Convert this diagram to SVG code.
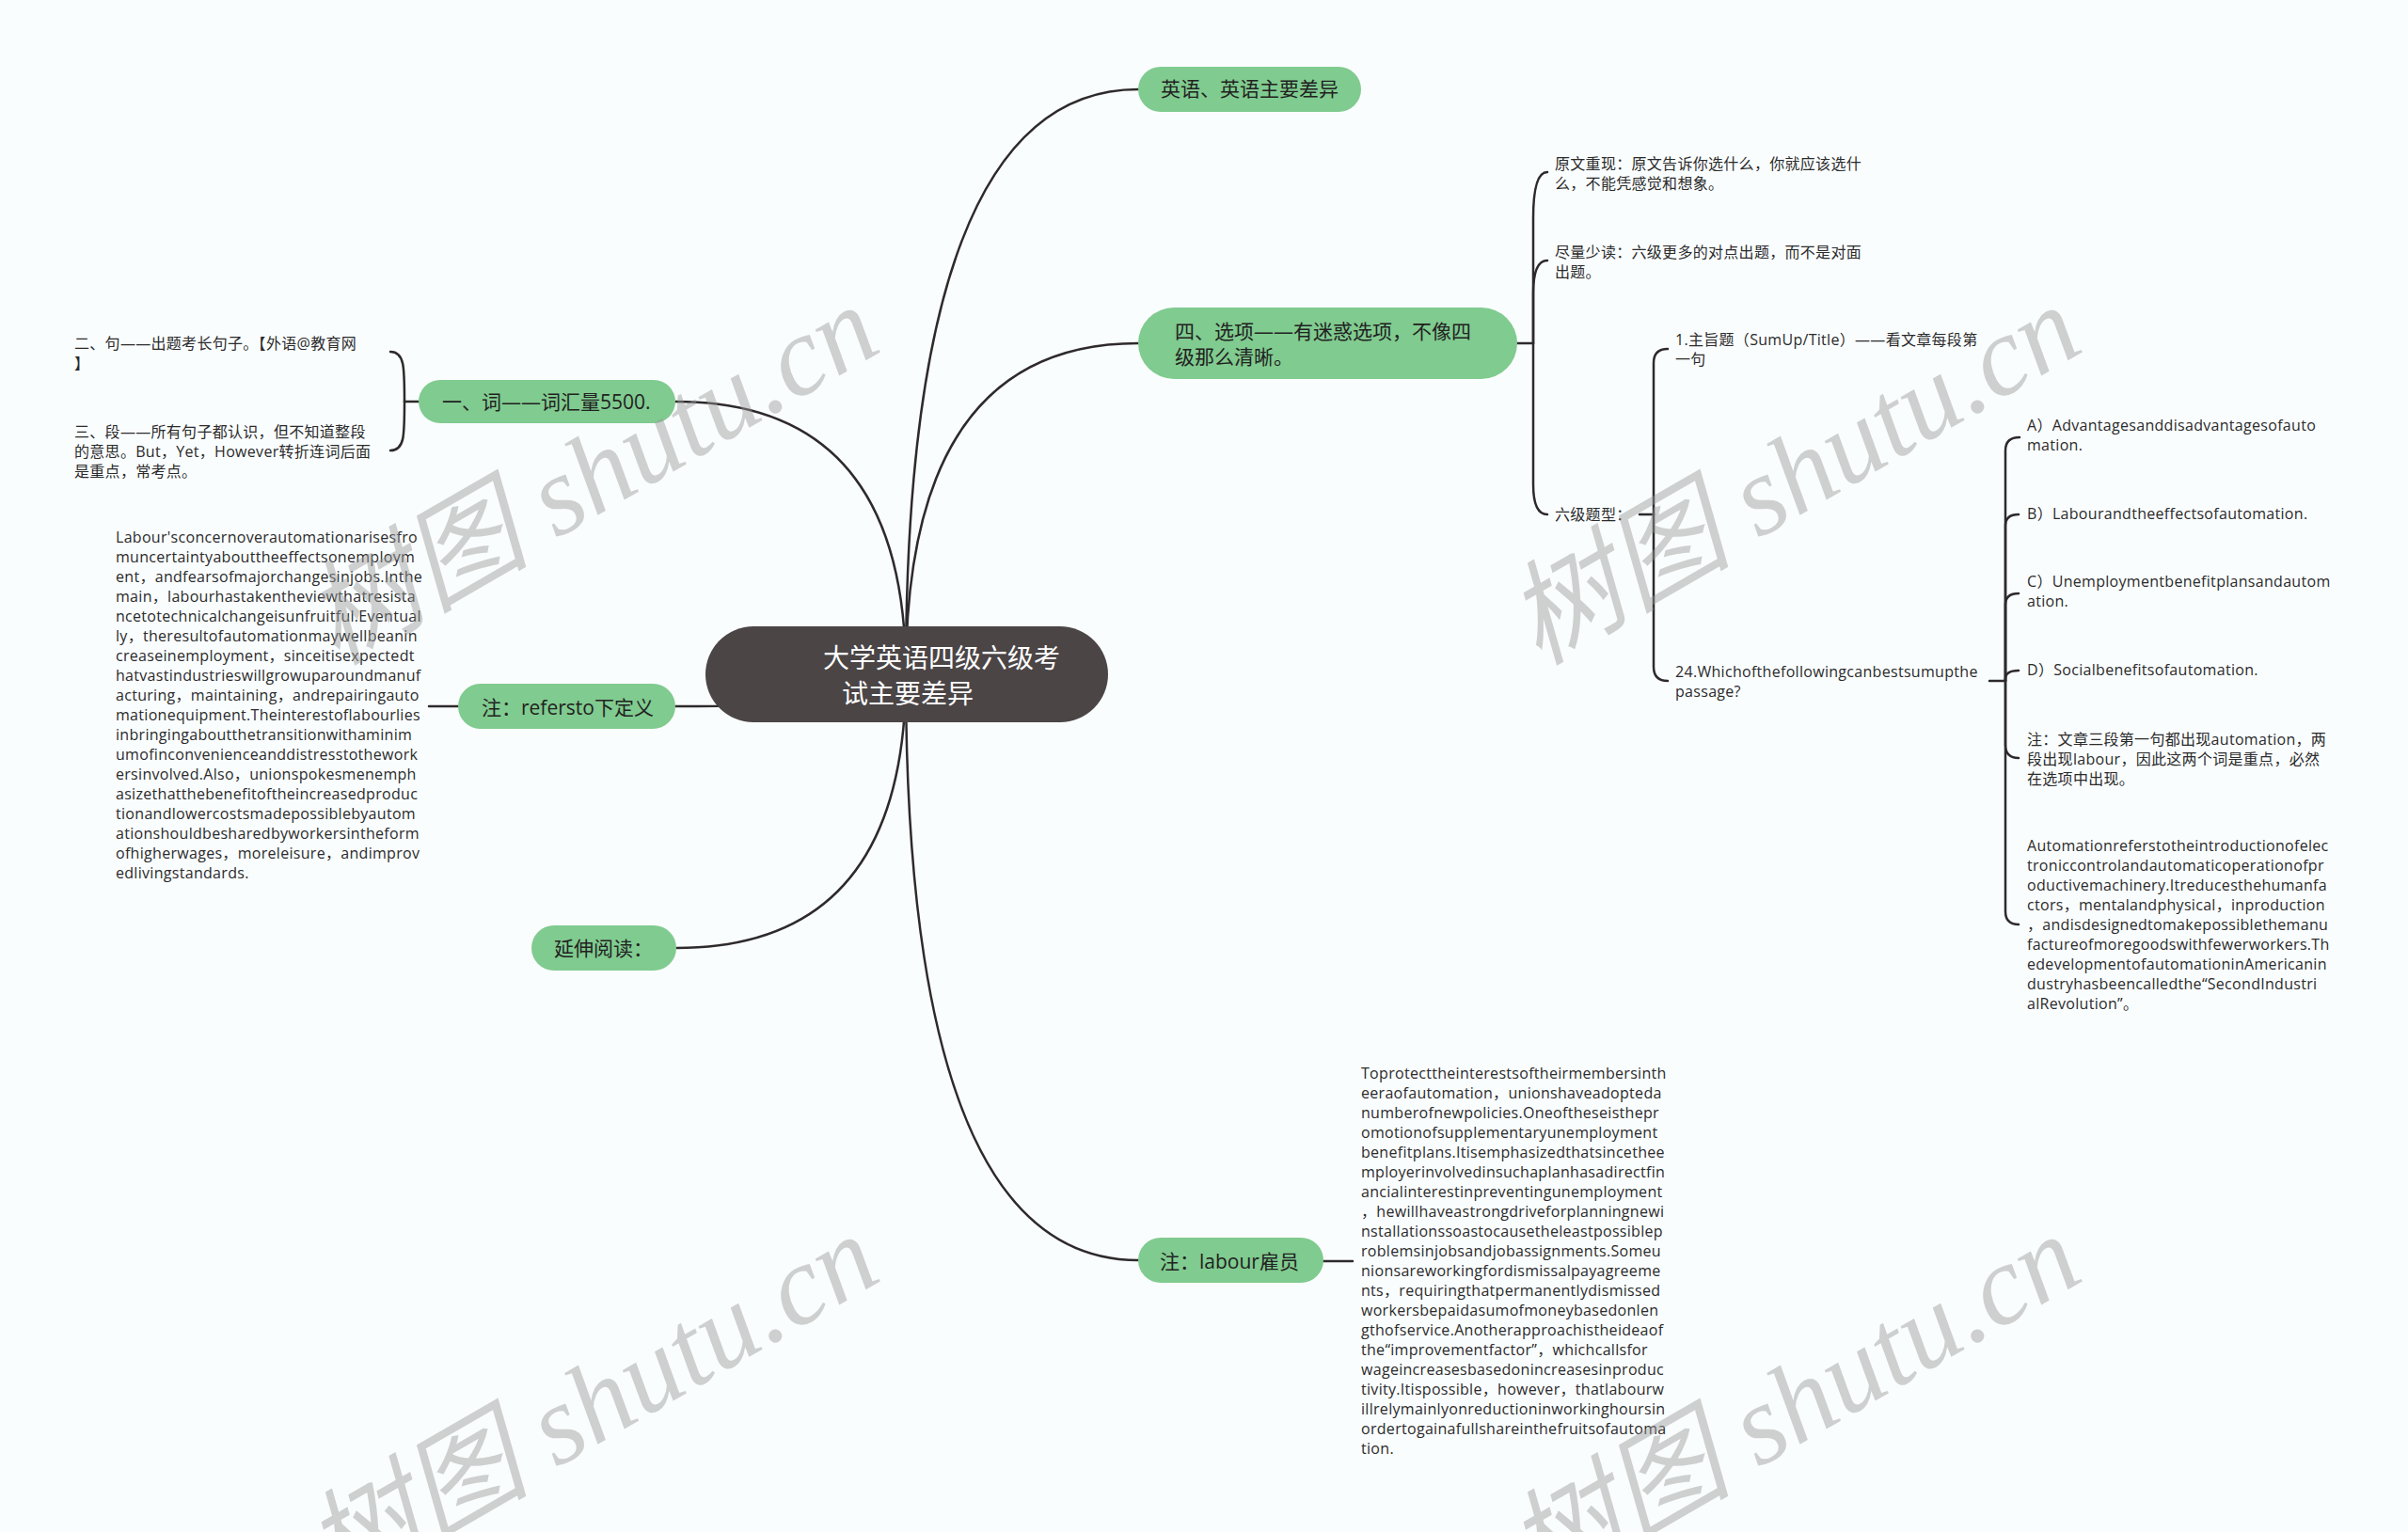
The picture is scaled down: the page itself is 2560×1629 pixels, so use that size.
<svg xmlns="http://www.w3.org/2000/svg" width="2560" height="1629" viewBox="0 0 2560 1629">
<style>
.bg{fill:#fafdfe}
.c{fill:none;stroke:#2e2a2b;stroke-width:2.5;stroke-linecap:round}
.g{fill:#80cb8f}
.gt{font-family:"Open Sans","Noto Sans CJK SC",sans-serif;font-size:21px;fill:#222}
.t{font-family:"Open Sans","Noto Sans CJK SC",sans-serif;font-size:16px;fill:#2b2b2b;letter-spacing:0.3px}
.ct{font-family:"Open Sans","Noto Sans CJK SC",sans-serif;font-size:28px;fill:#ffffff}
.wm{font-family:"Liberation Serif","Noto Sans CJK SC",serif;font-style:italic;font-size:120px;fill:#9a9a9a;opacity:0.45}
</style>
<rect class="bg" x="0" y="0" width="2560" height="1629"/>
<g id="connectors">
<path class="c" d="M963,717 Q963,95 1210,95"/>
<path class="c" d="M963,717 Q963,365 1210,365"/>
<path class="c" d="M963,717 Q963,427 718,427"/>
<path class="c" d="M963,717 Q963,751 718,751"/>
<path class="c" d="M963,717 Q963,1008 719,1008"/>
<path class="c" d="M963,717 Q963,1340 1210,1340"/>
<path class="c" d="M445,427 H430"/>
<path class="c" d="M430,427 C430,390 430,374 415,374"/>
<path class="c" d="M430,427 C430,464 430,479 415,479"/>
<path class="c" d="M487,751 H456"/>
<path class="c" d="M1407,1341 H1438"/>
<path class="c" d="M1613,365 H1630"/>
<path class="c" d="M1630,365 L1630,232 Q1630,183 1645,183"/>
<path class="c" d="M1630,365 L1630,312 Q1630,277 1645,277"/>
<path class="c" d="M1630,365 L1630,515 Q1630,547 1645,547"/>
<path class="c" d="M1743,547 H1758"/>
<path class="c" d="M1758,547 V386 Q1758,371 1773,371"/>
<path class="c" d="M1758,547 V709 Q1758,724 1773,724"/>
<path class="c" d="M2115,724 H2132"/>
<path class="c" d="M2132,724 V479 Q2132,465 2147,465"/>
<path class="c" d="M2132,724 V559 Q2132,547 2146,547"/>
<path class="c" d="M2132,724 V643 Q2132,631 2146,631"/>
<path class="c" d="M2132,724 V722 Q2132,713 2146,713"/>
<path class="c" d="M2132,724 V792 Q2132,806 2146,806"/>
<path class="c" d="M2132,724 V969 Q2132,983 2146,983"/>
</g>
<g id="center">
<rect x="750" y="666" width="428" height="102" rx="51" fill="#4b4546"/>
<text class="ct" x="875" y="710">大学英语四级六级考</text>
<text class="ct" x="895" y="748">试主要差异</text>
</g>
<g id="n-yingyu">
<rect class="g" x="1210" y="71" width="237" height="48" rx="24"/>
<text class="gt" x="1234" y="102">英语、英语主要差异</text>
</g>
<g id="n-xuanxiang">
<rect class="g" x="1210" y="327" width="403" height="76" rx="38"/>
<text class="gt" x="1249" y="360">四、选项——有迷惑选项，不像四</text>
<text class="gt" x="1249" y="387">级那么清晰。</text>
</g>
<g id="n-ci">
<rect class="g" x="445" y="404" width="273" height="46" rx="23"/>
<text class="gt" x="470" y="435">一、词——词汇量5500.</text>
</g>
<g id="n-refersto">
<rect class="g" x="487" y="727" width="231" height="48" rx="24"/>
<text class="gt" x="512" y="760">注：refersto下定义</text>
</g>
<g id="n-yanshen">
<rect class="g" x="565" y="984" width="154" height="48" rx="24"/>
<text class="gt" x="589" y="1016">延伸阅读：</text>
</g>
<g id="n-labour">
<rect class="g" x="1210" y="1316" width="197" height="48" rx="24"/>
<text class="gt" x="1233" y="1349">注：labour雇员</text>
</g>
<g id="n-ju">
<text class="t" x="79" y="371">二、句——出题考长句子。【外语@教育网</text>
<text class="t" x="79" y="392">】</text>
</g>
<g id="n-duan">
<text class="t" x="79" y="465">三、段——所有句子都认识，但不知道整段</text>
<text class="t" x="79" y="486">的意思。But，Yet，However转折连词后面</text>
<text class="t" x="79" y="507">是重点，常考点。</text>
</g>
<g id="n-labour-para">
<text class="t" x="123" y="577">Labour'sconcernoverautomationarisesfro</text>
<text class="t" x="123" y="598">muncertaintyabouttheeffectsonemploym</text>
<text class="t" x="123" y="619">ent，andfearsofmajorchangesinjobs.Inthe</text>
<text class="t" x="123" y="640">main，labourhastakentheviewthatresista</text>
<text class="t" x="123" y="661">ncetotechnicalchangeisunfruitful.Eventual</text>
<text class="t" x="123" y="682">ly，theresultofautomationmaywellbeanin</text>
<text class="t" x="123" y="703">creaseinemployment，sinceitisexpectedt</text>
<text class="t" x="123" y="724">hatvastindustrieswillgrowuparoundmanuf</text>
<text class="t" x="123" y="745">acturing，maintaining，andrepairingauto</text>
<text class="t" x="123" y="766">mationequipment.Theinterestoflabourlies</text>
<text class="t" x="123" y="787">inbringingaboutthetransitionwithaminim</text>
<text class="t" x="123" y="808">umofinconvenienceanddistresstothework</text>
<text class="t" x="123" y="829">ersinvolved.Also，unionspokesmenemph</text>
<text class="t" x="123" y="850">asizethatthebenefitoftheincreasedproduc</text>
<text class="t" x="123" y="871">tionandlowercostsmadepossiblebyautom</text>
<text class="t" x="123" y="892">ationshouldbesharedbyworkersintheform</text>
<text class="t" x="123" y="913">ofhigherwages，moreleisure，andimprov</text>
<text class="t" x="123" y="934">edlivingstandards.</text>
</g>
<g id="n-yuanwen">
<text class="t" x="1653" y="180">原文重现：原文告诉你选什么，你就应该选什</text>
<text class="t" x="1653" y="201">么，不能凭感觉和想象。</text>
</g>
<g id="n-jinliang">
<text class="t" x="1653" y="274">尽量少读：六级更多的对点出题，而不是对面</text>
<text class="t" x="1653" y="295">出题。</text>
</g>
<g id="n-tixing">
<text class="t" x="1653" y="553">六级题型：</text>
</g>
<g id="n-zhuzhi">
<text class="t" x="1781" y="367">1.主旨题（SumUp/Title）——看文章每段第</text>
<text class="t" x="1781" y="388">一句</text>
</g>
<g id="n-q24">
<text class="t" x="1781" y="720">24.Whichofthefollowingcanbestsumupthe</text>
<text class="t" x="1781" y="741">passage?</text>
</g>
<g id="n-a">
<text class="t" x="2155" y="458">A）Advantagesanddisadvantagesofauto</text>
<text class="t" x="2155" y="479">mation.</text>
</g>
<g id="n-b">
<text class="t" x="2155" y="552">B）Labourandtheeffectsofautomation.</text>
</g>
<g id="n-c">
<text class="t" x="2155" y="624">C）Unemploymentbenefitplansandautom</text>
<text class="t" x="2155" y="645">ation.</text>
</g>
<g id="n-d">
<text class="t" x="2155" y="718">D）Socialbenefitsofautomation.</text>
</g>
<g id="n-zhu">
<text class="t" x="2155" y="792">注：文章三段第一句都出现automation，两</text>
<text class="t" x="2155" y="813">段出现labour，因此这两个词是重点，必然</text>
<text class="t" x="2155" y="834">在选项中出现。</text>
</g>
<g id="n-automation">
<text class="t" x="2155" y="905">Automationreferstotheintroductionofelec</text>
<text class="t" x="2155" y="926">troniccontrolandautomaticoperationofpr</text>
<text class="t" x="2155" y="947">oductivemachinery.Itreducesthehumanfa</text>
<text class="t" x="2155" y="968">ctors，mentalandphysical，inproduction</text>
<text class="t" x="2155" y="989">，andisdesignedtomakepossiblethemanu</text>
<text class="t" x="2155" y="1010">factureofmoregoodswithfewerworkers.Th</text>
<text class="t" x="2155" y="1031">edevelopmentofautomationinAmericanin</text>
<text class="t" x="2155" y="1052">dustryhasbeencalledthe“SecondIndustri</text>
<text class="t" x="2155" y="1073">alRevolution”。</text>
</g>
<g id="n-protect">
<text class="t" x="1447" y="1147">Toprotecttheinterestsoftheirmembersinth</text>
<text class="t" x="1447" y="1168">eeraofautomation，unionshaveadopteda</text>
<text class="t" x="1447" y="1189">numberofnewpolicies.Oneoftheseisthepr</text>
<text class="t" x="1447" y="1210">omotionofsupplementaryunemployment</text>
<text class="t" x="1447" y="1231">benefitplans.Itisemphasizedthatsincethee</text>
<text class="t" x="1447" y="1252">mployerinvolvedinsuchaplanhasadirectfin</text>
<text class="t" x="1447" y="1273">ancialinterestinpreventingunemployment</text>
<text class="t" x="1447" y="1294">，hewillhaveastrongdriveforplanningnewi</text>
<text class="t" x="1447" y="1315">nstallationssoastocausetheleastpossiblep</text>
<text class="t" x="1447" y="1336">roblemsinjobsandjobassignments.Someu</text>
<text class="t" x="1447" y="1357">nionsareworkingfordismissalpayagreeme</text>
<text class="t" x="1447" y="1378">nts，requiringthatpermanentlydismissed</text>
<text class="t" x="1447" y="1399">workersbepaidasumofmoneybasedonlen</text>
<text class="t" x="1447" y="1420">gthofservice.Anotherapproachistheideaof</text>
<text class="t" x="1447" y="1441">the“improvementfactor”，whichcallsfor</text>
<text class="t" x="1447" y="1462">wageincreasesbasedonincreasesinproduc</text>
<text class="t" x="1447" y="1483">tivity.Itispossible，however，thatlabourw</text>
<text class="t" x="1447" y="1504">illrelymainlyonreductioninworkinghoursin</text>
<text class="t" x="1447" y="1525">ordertogainafullshareinthefruitsofautoma</text>
<text class="t" x="1447" y="1546">tion.</text>
</g>
<g id="watermarks">
<text class="wm" text-anchor="middle" transform="translate(649,540) rotate(-30)">树图 shutu.cn</text>
<text class="wm" text-anchor="middle" transform="translate(1927,540) rotate(-30)">树图 shutu.cn</text>
<text class="wm" text-anchor="middle" transform="translate(649,1528) rotate(-30)">树图 shutu.cn</text>
<text class="wm" text-anchor="middle" transform="translate(1927,1528) rotate(-30)">树图 shutu.cn</text>
</g>
</svg>
